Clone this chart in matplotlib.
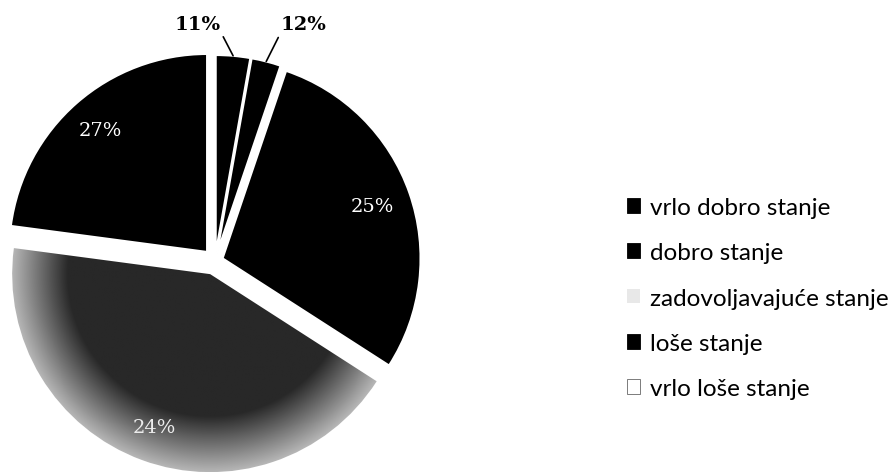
import matplotlib.pyplot as plt
import numpy as np
from matplotlib.patches import Patch

# legend categories
categories = ['vrlo dobro stanje', 'dobro stanje', 'zadovoljavajuće stanje',
              'loše stanje', 'vrlo loše stanje']
legend_colors = ['black', 'black', '#e8e8e8', 'black', 'white']

# slices, clockwise from 12 o'clock, sized as drawn in the picture
slice_sizes = [2.8, 2.4, 28.9, 43.0, 22.9]
slice_labels = ['11%', '12%', '25%', '24%', '27%']
slice_colors = ['black', 'black', 'black', '#3a3a3a', 'black']

W, H = 893, 477
fig = plt.figure(figsize=(W / 100, H / 100), dpi=100)
ax = fig.add_axes([0, 0, 1, 1])

wedges, _ = ax.pie(slice_sizes, colors=slice_colors, startangle=90, counterclock=False,
                   radius=198, center=(215, 215), explode=[8, 8, 8, 14, 12],
                   wedgeprops=dict(edgecolor='white', linewidth=1.5))

# grey slice: dark in the middle, fading out towards the rim (scanned look)
g = wedges[3]
cx, cy = g.center
R = g.r
xs = np.linspace(cx - R, cx + R, 400)
ys = np.linspace(cy - R, cy + R, 400)
X, Y = np.meshgrid(xs, ys)
rr = np.hypot(X - cx, Y - cy) / R
shade = np.clip(0.16 + (rr - 0.72) / 0.28 * 0.55, 0.16, 0.75)
img = ax.imshow(shade, extent=(cx - R, cx + R, cy - R, cy + R), origin='lower',
                cmap='gray', vmin=0, vmax=1, zorder=g.get_zorder() + 0.1)
img.set_clip_path(g)

ax.set_xlim(0, W)
ax.set_ylim(0, H)
ax.set_aspect('equal')
ax.axis('off')

# labels inside the big slices
inner = {2: ('white', 0.8), 3: ('#ececec', 0.82), 4: ('white', 0.82)}
for i, (c, d) in inner.items():
    w = wedges[i]
    th = np.deg2rad((w.theta1 + w.theta2) / 2)
    x = w.center[0] + d * w.r * np.cos(th)
    y = w.center[1] + d * w.r * np.sin(th)
    ax.text(x, y, slice_labels[i], color=c, fontsize=14, family='DejaVu Serif',
            ha='center', va='center', zorder=5)

# labels with leader lines for the two thin slices
offsets = {0: (-35, 32), 1: (37, 37)}
relpos = {0: (1, 0), 1: (0, 0)}
for i, off in offsets.items():
    w = wedges[i]
    th = np.deg2rad((w.theta1 + w.theta2) / 2)
    x = w.center[0] + w.r * np.cos(th)
    y = w.center[1] + w.r * np.sin(th)
    ax.annotate(slice_labels[i], (x, y), xytext=off, textcoords='offset pixels',
                fontsize=14, fontweight='bold', family='DejaVu Serif',
                ha='center', va='center',
                arrowprops=dict(arrowstyle='-', color='black', lw=1.2,
                                shrinkA=1, shrinkB=0, relpos=relpos[i]))

handles = [Patch(facecolor=c, edgecolor='black' if c != '#e8e8e8' else 'none', linewidth=0.6)
           for c in legend_colors]
handles[4].set_edgecolor('#666666')
fig.legend(handles, categories, loc='center left', bbox_to_anchor=(627 / W, 1 - 299 / H),
           frameon=False, prop={'family': 'Lato', 'size': 17.5}, handlelength=0.55,
           handleheight=0.55, handletextpad=0.4, labelspacing=1.0,
           borderpad=0, borderaxespad=0)

fig.savefig('out.png', dpi=100)
